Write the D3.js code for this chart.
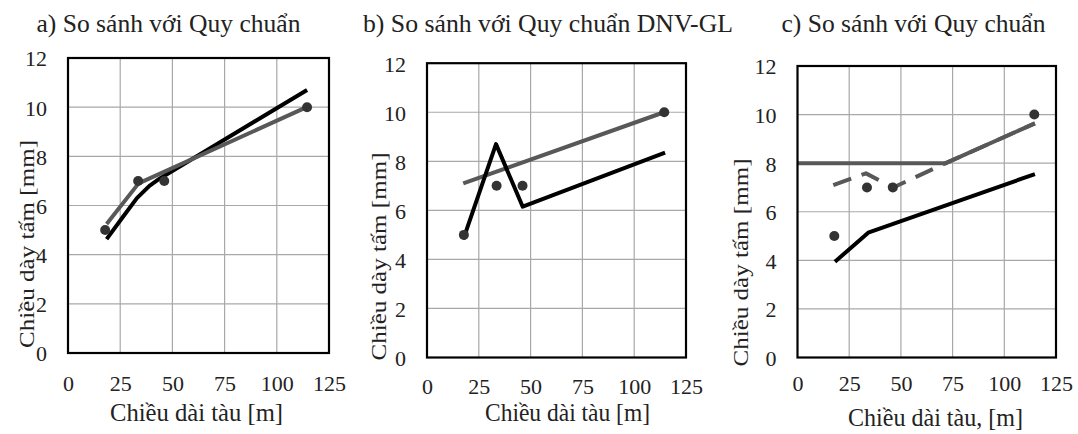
<!DOCTYPE html>
<html><head><meta charset="utf-8">
<script src="https://cdn.jsdelivr.net/npm/d3@7"></script>
</head>
<body style="margin:0;background:#fff">
<svg id="chart" width="1078" height="434"></svg>
<script>
// ---------- data ----------
const xTicks = [0, 25, 50, 75, 100, 125];
const yTicks = [0, 2, 4, 6, 8, 10, 12];
const panelTitles = ["a) So sánh với Quy chuẩn", "b) So sánh với Quy chuẩn DNV-GL", "c) So sánh với Quy chuẩn"];
const xTitles = ["Chiều dài tàu [m]", "Chiều dài tàu [m]", "Chiều dài tàu, [m]"];
const yTitle = "Chiều dày tấm [mm]";

// measured ships (dots)
const shipLength = [17.8, 33.6, 46.1, 114.5];
const shipThickness = [5, 7, 7, 10];

// panel a
const aBlackX = [18.5, 26, 33, 39, 44, 114.5];
const aBlackY = [4.63, 5.5, 6.3, 6.8, 7.1, 10.7];
const aGrayX = [18.5, 33.8, 114.3];
const aGrayY = [5.25, 6.9, 10.0];

// panel b
const bBlackX = [17.5, 33.3, 46.2, 114.9];
const bBlackY = [4.82, 8.7, 6.15, 8.35];
const bGrayX = [17.5, 114.4];
const bGrayY = [7.1, 10.0];

// panel c
const cBlackX = [18.1, 34.2, 114.8];
const cBlackY = [3.94, 5.14, 7.55];
const cGraySolidX = [0, 71.7, 114.8];
const cGraySolidY = [8.0, 8.0, 9.64];
const cGrayDashX = [17.3, 33.1, 46.3, 71.7, 114.8];
const cGrayDashY = [7.1, 7.58, 7.0, 8.0, 9.64];

// ---------- layout ----------
const FONT = "Liberation Serif";
const panels = [
  {x0: 68, x1: 329, y0: 58, y1: 353, titleX: 36.5, titleW: 264, titleY: 31.5,
   xtY: 391, xTitleX: 196.5, xTitleY: 421, xTitleW: 173, yTitleX: 33.5, yTitleC: 244,
   series: [
     {x: aBlackX, y: aBlackY, color: "#000", dash: null},
     {x: aGrayX, y: aGrayY, color: "#585858", dash: null}
   ]},
  {x0: 427, x1: 686, y0: 63.2, y1: 357.5, titleX: 363, titleW: 370, titleY: 32,
   xtY: 394, xTitleX: 567.5, xTitleY: 421, xTitleW: 165, yTitleX: 386, yTitleC: 256.5,
   series: [
     {x: bGrayX, y: bGrayY, color: "#585858", dash: null},
     {x: bBlackX, y: bBlackY, color: "#000", dash: null}
   ]},
  {x0: 797.5, x1: 1056, y0: 66, y1: 357.5, titleX: 781.5, titleW: 264, titleY: 32,
   xtY: 391, xTitleX: 935.5, xTitleY: 426, xTitleW: 175, yTitleX: 748, yTitleC: 262.5,
   series: [
     {x: cGraySolidX, y: cGraySolidY, color: "#585858", dash: null},
     {x: cGrayDashX, y: cGrayDashY, color: "#585858", dash: "19,11"},
     {x: cBlackX, y: cBlackY, color: "#000", dash: null}
   ]}
];

const svg = d3.select("#chart");

panels.forEach((p, i) => {
  const x = d3.scaleLinear().domain([0, 125]).range([p.x0, p.x1]);
  const y = d3.scaleLinear().domain([0, 12]).range([p.y1, p.y0]);
  const g = svg.append("g");

  // gridlines
  g.append("g").selectAll("line").data(xTicks.slice(1, -1)).join("line")
    .attr("x1", d => x(d)).attr("x2", d => x(d)).attr("y1", p.y0).attr("y2", p.y1)
    .attr("stroke", "#a8a8a8").attr("stroke-width", 1.2);
  g.append("g").selectAll("line").data(yTicks.slice(1, -1)).join("line")
    .attr("y1", d => y(d)).attr("y2", d => y(d)).attr("x1", p.x0).attr("x2", p.x1)
    .attr("stroke", "#a8a8a8").attr("stroke-width", 1.2);

  // axes (labels only)
  const xa = g.append("g").attr("transform", `translate(0,${p.y1})`)
    .call(d3.axisBottom(x).tickValues(xTicks).tickSize(0).tickFormat(d3.format("d")));
  xa.attr("font-family", FONT).attr("font-size", 22);
  xa.select(".domain").remove();
  xa.selectAll("text").attr("y", p.xtY - p.y1).attr("dy", 0)
    .attr("font-family", FONT).attr("font-size", 22).attr("fill", "#222");

  const ya = g.append("g").attr("transform", `translate(${p.x0},0)`)
    .call(d3.axisLeft(y).tickValues(yTicks).tickSize(0).tickFormat(d3.format("d")));
  ya.attr("font-family", FONT).attr("font-size", 22);
  ya.select(".domain").remove();
  ya.selectAll("text").attr("x", -21).attr("dy", "0.36em")
    .attr("font-family", FONT).attr("font-size", 22).attr("fill", "#222");

  // lines
  const line = d3.line();
  p.series.forEach(s => {
    const pts = s.x.map((v, k) => [x(v), y(s.y[k])]);
    g.append("path").attr("d", line(pts)).attr("fill", "none")
      .attr("stroke", s.color).attr("stroke-width", 4)
      .attr("stroke-linejoin", "round")
      .attr("stroke-dasharray", s.dash);
  });

  // dots
  g.append("g").selectAll("circle").data(shipLength).join("circle")
    .attr("cx", d => x(d)).attr("cy", (d, k) => y(shipThickness[k]))
    .attr("r", 5).attr("fill", "#333");

  // frame
  g.append("rect").attr("x", p.x0).attr("y", p.y0)
    .attr("width", p.x1 - p.x0).attr("height", p.y1 - p.y0)
    .attr("fill", "none").attr("stroke", "#000").attr("stroke-width", 2.2);

  // titles
  g.append("text").attr("x", p.titleX).attr("y", p.titleY)
    .attr("font-family", FONT).attr("font-size", 25).attr("fill", "#222")
    .attr("textLength", p.titleW).attr("lengthAdjust", "spacingAndGlyphs")
    .text(panelTitles[i]);
  g.append("text").attr("x", p.xTitleX).attr("y", p.xTitleY).attr("text-anchor", "middle")
    .attr("font-family", FONT).attr("font-size", 26).attr("fill", "#222")
    .attr("textLength", p.xTitleW).attr("lengthAdjust", "spacingAndGlyphs")
    .text(xTitles[i]);
  g.append("text").attr("transform", `translate(${p.yTitleX},${p.yTitleC}) rotate(-90)`)
    .attr("text-anchor", "middle")
    .attr("font-family", FONT).attr("font-size", 21).attr("fill", "#222")
    .attr("textLength", 208).attr("lengthAdjust", "spacingAndGlyphs")
    .text(yTitle);
});
</script>
</body></html>
